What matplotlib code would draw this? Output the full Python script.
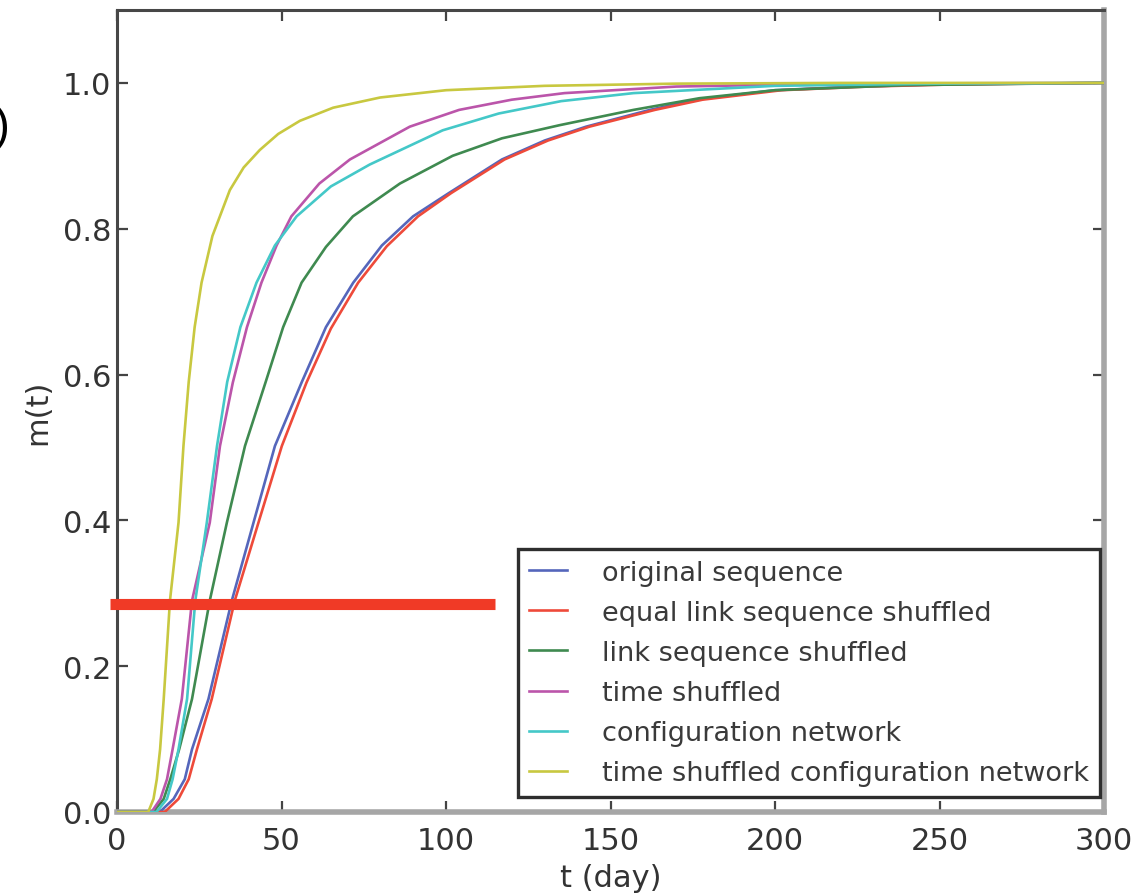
import matplotlib
matplotlib.use("Agg")
import matplotlib.pyplot as plt

# ---- data ----
labels = ["original sequence", "equal link sequence shuffled", "link sequence shuffled",
          "time shuffled", "configuration network", "time shuffled configuration network"]
colors = ["#5566bb", "#ee4a3a", "#3f8a50", "#bb55aa", "#44c8c8", "#c8c840"]

t_orig = [0, 13, 17.2, 20.6, 22.8, 27.8, 34.9, 41.5, 48.0, 56.1, 63.5, 71.8, 80.5, 90, 100.9, 117, 130, 142.6, 162, 176, 200, 225, 250, 300]
m_orig = [0, 0, 0.018, 0.045, 0.086, 0.155, 0.29, 0.397, 0.502, 0.589, 0.665, 0.726, 0.777, 0.817, 0.849, 0.895, 0.921, 0.94, 0.963, 0.977, 0.99, 0.995, 0.998, 1.0]

t_equal = [0, 14.5, 18.7, 21.8, 24.3, 28.8, 35.8, 43.0, 50.1, 57.6, 65, 73.3, 82, 91.5, 101.6, 117.8, 131, 143.6, 163.5, 178, 202, 228, 255, 300]
m_equal = [0, 0, 0.018, 0.045, 0.086, 0.155, 0.29, 0.397, 0.502, 0.589, 0.663, 0.726, 0.776, 0.817, 0.849, 0.895, 0.921, 0.94, 0.963, 0.977, 0.99, 0.995, 0.998, 1.0]

t_link = [0, 11, 14.2, 16.2, 18.9, 22.8, 28.2, 33.4, 38.9, 45.2, 50.5, 56.1, 63.5, 71.7, 86, 102, 117, 134.5, 157, 177, 200, 240, 300]
m_link = [0, 0, 0.018, 0.045, 0.086, 0.155, 0.29, 0.397, 0.502, 0.59, 0.665, 0.726, 0.775, 0.817, 0.862, 0.90, 0.924, 0.942, 0.963, 0.979, 0.99, 0.997, 1.0]

t_time = [0, 10.5, 13.2, 15.2, 16.9, 19.7, 22.8, 28.2, 31.3, 35.2, 39.5, 43.9, 48.5, 53.0, 61.5, 70.8, 89, 104, 120, 136, 170, 220, 300]
m_time = [0, 0, 0.018, 0.045, 0.086, 0.155, 0.29, 0.397, 0.502, 0.589, 0.665, 0.726, 0.777, 0.817, 0.862, 0.895, 0.94, 0.963, 0.977, 0.986, 0.995, 0.999, 1.0]

t_conf = [0, 12, 15.2, 16.9, 18.7, 21.3, 23.8, 27.3, 30.4, 33.5, 37.5, 42.4, 48.0, 54.6, 65, 76.8, 99, 116, 135, 157, 200, 250, 300]
m_conf = [0, 0, 0.018, 0.045, 0.086, 0.155, 0.29, 0.397, 0.502, 0.59, 0.665, 0.726, 0.777, 0.817, 0.858, 0.888, 0.935, 0.958, 0.975, 0.986, 0.996, 0.999, 1.0]

t_tsconf = [0, 9.5, 11.1, 12.1, 13.1, 14.2, 16.1, 18.7, 20.2, 21.8, 23.6, 25.7, 29, 34.3, 38.5, 43.4, 49, 55.6, 65.7, 80, 100, 130, 170, 220, 300]
m_tsconf = [0, 0, 0.018, 0.045, 0.086, 0.155, 0.29, 0.397, 0.502, 0.59, 0.665, 0.726, 0.79, 0.853, 0.884, 0.908, 0.93, 0.948, 0.966, 0.98, 0.99, 0.996, 0.999, 1.0, 1.0]

series_t = [t_orig, t_equal, t_link, t_time, t_conf, t_tsconf]
series_m = [m_orig, m_equal, m_link, m_time, m_conf, m_tsconf]

x_ticks = [0, 50, 100, 150, 200, 250, 300]
y_ticks = [0.0, 0.2, 0.4, 0.6, 0.8, 1.0]

# red highlight bar drawn over the chart
bar_level = 0.285
bar_start, bar_end = -2, 115

# ---- figure ----
fig = plt.figure(figsize=(11.44, 8.95), dpi=100)
ax = fig.add_axes([117/1144, 1 - 813/895, (1104 - 117)/1144, (813 - 11)/895])

for t, m, lab, c in zip(series_t, series_m, labels, colors):
    ax.plot(t, m, color=c, lw=1.9, label=lab, solid_joinstyle="round", zorder=3)

ax.plot([bar_start, bar_end], [bar_level, bar_level], color="#f03a26", lw=8,
        solid_capstyle="butt", clip_on=False, zorder=10)

ax.set_xlim(0, 300)
ax.set_ylim(0, 1.1)
ax.set_xticks(x_ticks)
ax.set_yticks(y_ticks)
ax.set_yticklabels([f"{v:.1f}" for v in y_ticks])
ax.tick_params(direction="in", length=8, width=1.6, color="#444444",
               labelsize=22, labelcolor="#333333", top=True, right=True)
ax.tick_params(axis="x", pad=10)
ax.tick_params(axis="y", pad=4)

for s in ("left", "top"):
    ax.spines[s].set_color("#474747")
    ax.spines[s].set_linewidth(2.2)
for s in ("right", "bottom"):
    ax.spines[s].set_color("#a6a6a6")
    ax.spines[s].set_linewidth(4)

ax.set_xlabel("t (day)", fontsize=22, color="#333333", labelpad=6)
ax.set_ylabel("m(t)", fontsize=22, color="#333333", labelpad=8)

leg = ax.legend(loc="lower right", bbox_to_anchor=(0.996, 0.0187), borderaxespad=0,
                fontsize=19.5, labelspacing=0.52, handlelength=1.4, handletextpad=1.3,
                borderpad=0.4, fancybox=False, framealpha=1, edgecolor="#2e2e2e")
leg.get_frame().set_linewidth(2.4)
leg.set_zorder(5)
for txt in leg.get_texts():
    txt.set_color("#3a3a3a")

fig.text(10/1144, 1 - 128/895, "b)", fontsize=34, ha="right", va="center",
         family="Liberation Sans", color="black")

fig.savefig("out.png", dpi=100, facecolor="white")
